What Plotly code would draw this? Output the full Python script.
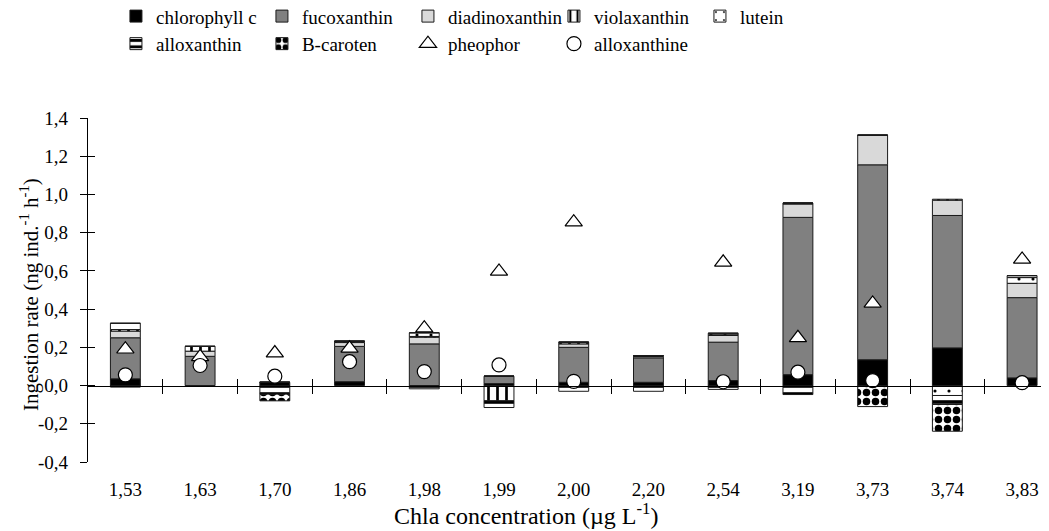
import plotly.graph_objects as go

categories = ["1,53", "1,63", "1,70", "1,86", "1,98", "1,99", "2,00",
              "2,20", "2,54", "3,19", "3,73", "3,74", "3,83"]

chlorophyll_c = [0.035, 0.0, 0.017, 0.02, -0.005, 0.01, 0.017, 0.017, 0.026, 0.057, 0.135, 0.197, 0.04]
fucoxanthin = [0.215, 0.153, 0.0, 0.185, 0.218, 0.039, 0.183, 0.128, 0.201, 0.823, 1.02, 0.693, 0.42]
diadinoxanthin = [0.035, 0.027, 0.0, 0.02, 0.035, 0.0, 0.018, 0.007, 0.035, 0.07, 0.155, 0.08, 0.075]
violaxanthin = [0.008, 0.025, 0.0, 0.007, 0.004, -0.08, 0.009, 0.005, 0.004, 0.005, 0.0, 0.005, 0.0]
lutein = [0.033, 0.0, 0.0, 0.0, 0.019, 0.0, 0.0, 0.0, 0.008, 0.0, 0.0, -0.052, 0.03]
alloxanthin = [-0.008, 0.0, -0.045, 0.0, -0.012, -0.035, -0.03, -0.03, -0.02, -0.047, 0.0, -0.047, 0.01]
b_caroten = [0.0, 0.0, -0.035, 0.0, 0.0, 0.0, 0.0, 0.0, 0.0, 0.0, -0.11, -0.14, 0.0]
pheophor = [0.19, 0.15, 0.17, 0.195, 0.30, 0.597, 0.855, None, 0.645, 0.25, 0.43, None, 0.66]
alloxanthine = [0.056, 0.105, 0.049, 0.125, 0.073, 0.108, 0.022, None, 0.02, 0.07, 0.026, None, 0.015]

y_ticks = [-0.4, -0.2, 0.0, 0.2, 0.4, 0.6, 0.8, 1.0, 1.2, 1.4]
y_tick_labels = ["-0,4", "-0,2", "0,0", "0,2", "0,4", "0,6", "0,8", "1,0", "1,2", "1,4"]

x_title = "Chla concentration (µg L<sup>-1</sup>)"
y_title = "Ingestion rate (ng ind.<sup>-1</sup> h<sup>-1</sup>)"

FONT = "Liberation Serif"
x = list(range(len(categories)))

fig = go.Figure()

bar_specs = [
    ("chlorophyll c", chlorophyll_c, dict(color="#000000"), "legend"),
    ("fucoxanthin", fucoxanthin, dict(color="#808080"), "legend"),
    ("diadinoxanthin", diadinoxanthin, dict(color="#d9d9d9"), "legend"),
    ("violaxanthin", violaxanthin, dict(color="white",
        pattern=dict(shape="|", fgcolor="black", bgcolor="white", size=9, solidity=0.3, fillmode="replace")), "legend"),
    ("lutein", lutein, dict(color="white",
        pattern=dict(shape=".", fgcolor="black", bgcolor="white", size=14, solidity=0.04, fillmode="replace")), "legend"),
    ("alloxanthin", alloxanthin, dict(color="white",
        pattern=dict(shape="-", fgcolor="black", bgcolor="white", size=8, solidity=0.45, fillmode="replace")), "legend2"),
    ("B-caroten", b_caroten, dict(color="white",
        pattern=dict(shape=".", fgcolor="black", bgcolor="white", size=9, solidity=0.55, fillmode="replace")), "legend2"),
]

for name, vals, mk, lg in bar_specs:
    mk = dict(mk)
    mk["line"] = dict(color="#1a1a1a", width=1)
    fig.add_trace(go.Bar(x=x, y=vals, name=name, width=0.4, marker=mk, legend=lg))

fig.add_trace(go.Scatter(x=x, y=pheophor, mode="markers", name="pheophor", legend="legend2",
                         marker=dict(symbol="triangle-up", size=15, color="white",
                                     line=dict(color="black", width=1.2))))
fig.add_trace(go.Scatter(x=x, y=alloxanthine, mode="markers", name="alloxanthine", legend="legend2",
                         marker=dict(symbol="circle", size=14, color="white",
                                     line=dict(color="black", width=1.2))))

xr = [-0.5, 12.36]
yr = [-0.4, 1.4]
zero_pos = (0 - yr[0]) / (yr[1] - yr[0])
bounds = [i + 0.5 for i in x]

legend_common = dict(orientation="h", xref="container", yref="paper",
                     xanchor="left", yanchor="top",
                     entrywidth=101, entrywidthmode="pixels",
                     font=dict(family=FONT, size=19, color="black"),
                     itemwidth=30, traceorder="normal", bgcolor="rgba(0,0,0,0)")

# page body has an 8px margin: figure is sized/offset so the plot lands on the reference pixels
fig.update_layout(
    width=1041, height=523,
    margin=dict(l=80, r=0, t=110, b=69, autoexpand=False),
    plot_bgcolor="white", paper_bgcolor="white",
    barmode="relative",
    separators=",.",
    font=dict(family=FONT, color="black", size=19),
    legend=dict(legend_common, x=0.1037, y=1.351),
    legend2=dict(legend_common, x=0.1037, y=1.271),
    xaxis=dict(range=xr, tickmode="array", tickvals=x, ticktext=categories,
               showline=False, showgrid=False, zeroline=False, automargin=False,
               ticks="outside", ticklen=10, tickcolor="rgba(0,0,0,0)",
               tickfont=dict(family=FONT, size=19)),
    xaxis2=dict(range=xr, overlaying="x", anchor="free", position=zero_pos,
                tickmode="array", tickvals=bounds, showticklabels=False, automargin=False,
                ticks="outside", ticklen=7, tickcolor="black", tickwidth=1,
                showline=True, linecolor="black", linewidth=1.3,
                showgrid=False, zeroline=False),
    xaxis3=dict(range=xr, overlaying="x", anchor="free", position=zero_pos,
                tickmode="array", tickvals=bounds, showticklabels=False, automargin=False,
                ticks="inside", ticklen=7, tickcolor="black", tickwidth=1,
                showline=False, showgrid=False, zeroline=False),
    yaxis=dict(range=yr, tickmode="array", tickvals=y_ticks, ticktext=y_tick_labels,
               showline=True, linecolor="black", linewidth=1.3, automargin=False,
               ticks="outside", ticklen=7, tickcolor="black", ticklabelstandoff=8,
               showgrid=False, zeroline=False,
               tickfont=dict(family=FONT, size=19)),
    yaxis2=dict(range=yr, overlaying="y", anchor="x", side="left", automargin=False,
                tickmode="array", tickvals=y_ticks, showticklabels=False,
                ticks="inside", ticklen=7, tickcolor="black",
                showline=False, showgrid=False, zeroline=False),
    annotations=[
        dict(text=x_title, xref="paper", yref="paper", x=0.4558, y=-0.151,
             xanchor="center", yanchor="middle", showarrow=False,
             font=dict(family=FONT, size=24, color="black")),
        dict(text=y_title, xref="paper", yref="paper", x=-0.0604, y=0.4884,
             xanchor="center", yanchor="middle", showarrow=False, textangle=-90,
             font=dict(family=FONT, size=21, color="black")),
    ],
)

fig.add_trace(go.Scatter(x=[xr[0]], y=[0], xaxis="x2", yaxis="y", mode="markers",
                         marker=dict(opacity=0), showlegend=False, hoverinfo="skip"))
fig.add_trace(go.Scatter(x=[xr[0]], y=[0], xaxis="x3", yaxis="y2", mode="markers",
                         marker=dict(opacity=0), showlegend=False, hoverinfo="skip"))

fig.write_html("out.html", config=dict(displayModeBar=False))
